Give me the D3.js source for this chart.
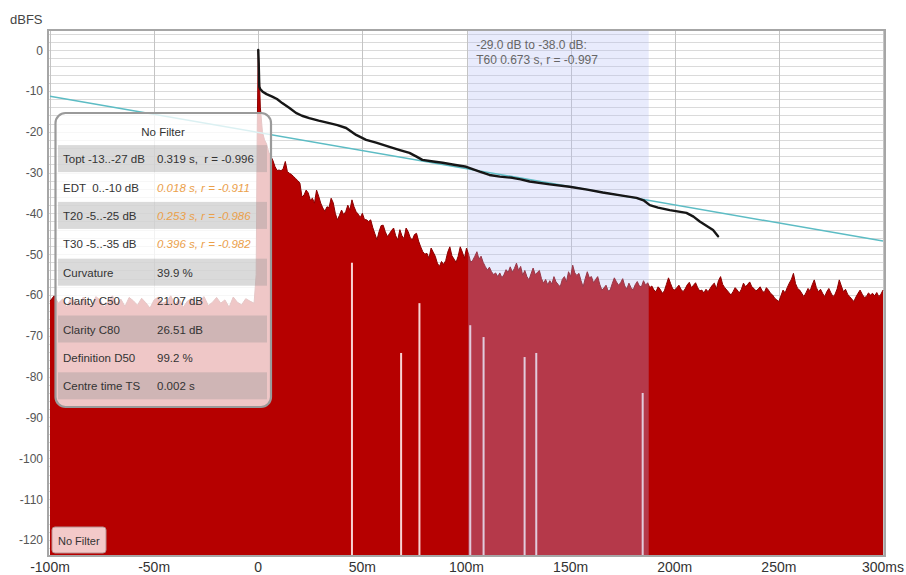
<!DOCTYPE html>
<html><head><meta charset="utf-8">
<script src="https://cdn.jsdelivr.net/npm/d3@7"></script>
<style>
body{margin:0;background:#fff;}
svg{display:block;font-family:"Liberation Sans",Arial,sans-serif;}
</style>
</head><body>
<svg id="c" width="906" height="575"></svg>
<script>
// ---------------- data ----------------
const xTicks = [-100, -50, 0, 50, 100, 150, 200, 250, 300];
const xTickLabels = ["-100m", "-50m", "0", "50m", "100m", "150m", "200m", "250m", "300ms"];
const yTicks = [0, -10, -20, -30, -40, -50, -60, -70, -80, -90, -100, -110, -120];
const yTickLabels = ["0", "-10", "-20", "-30", "-40", "-50", "-60", "-70", "-80", "-90", "-100", "-110", "-120"];

// impulse response level (dB), pre-impulse noise at t = -100, -98, ... -2 ms
const preNoise = [
  -61.5, -60.2, -62, -61, -63, -60.8, -61.6, -62.4, -60.5, -61.8,
  -62.6, -60.4, -61.2, -63, -61.5, -60.2, -62.2, -61, -62.8, -60.6,
  -61.4, -62.5, -60.8, -61.9, -63.2, -61.2, -60.5, -62, -61.6, -60.2,
  -62.4, -61, -63, -61.5, -60.8, -62.2, -61.3, -60.4, -62.6, -61.8,
  -60.6, -62, -61.2, -63, -60.5, -61.8, -62.4, -60.9, -61.5, -62
];
const onsetTimes = [-1, -0.5, 0, 0.5];
const onsetLevels = [-55, -20, 0, -6];
// decay, t = 1, 2, ... 300 ms
const decayLevels = [
  -14, -20, -22, -23, -25, -26, -27, -28.5, -29.5, -29.4,
  -29.6, -29, -27.3, -29.8, -30.2, -30.5, -31, -31.5, -32, -32.6,
  -36, -35.5, -34.3, -35, -36.8, -36.3, -37.5, -34.3, -35.8, -37.5,
  -38.7, -39.5, -38.4, -38.6, -36.3, -37.4, -40, -41.6, -40.5, -39.2,
  -40.3, -39.6, -38, -39.2, -36.7, -38.4, -39.6, -40.2, -41, -40,
  -41.5, -41.6, -42, -41.6, -43.5, -45, -46.5, -44.5, -43, -42.9,
  -44.5, -45.7, -45, -44.2, -43.6, -45.5, -46.5, -44, -45.5, -46.2,
  -43.6, -44.5, -46, -46.5, -45.2, -44.9, -46.8, -48.2, -49.4, -50,
  -49.8, -51, -48.5, -49.5, -50.5, -52.2, -53, -51.8, -52.5, -51.6,
  -49.5, -48.2, -50.4, -51.2, -52, -50.5, -48.2, -49.5, -51, -48.5,
  -50, -52, -51.5, -50.5, -49.4, -51.2, -50.5, -52, -53, -53.9,
  -53.2, -54.3, -55, -54.6, -55.5, -54.6, -55.8, -55, -53.8, -54.5,
  -53.1, -54.4, -53.5, -52.2, -54, -53, -55.2, -54, -55.5, -56.3,
  -54.8, -53.4, -55, -54.5, -54, -56, -57.1, -56.2, -57.5, -56.5,
  -57.3, -55.5, -56.8, -57.4, -58, -56.2, -55.5, -56.8, -54.3, -55.5,
  -52.7, -54.6, -55.2, -54.7, -56.5, -58, -56, -54.3, -55.8, -55.5,
  -57, -56.2, -55.5, -57.4, -58.8, -58.3, -57.6, -59, -58.8, -57.2,
  -55.8, -56.8, -57.6, -57, -56, -57.8, -58.5, -57.1, -58.2, -58.8,
  -57.5, -56.7, -57.8, -58, -56.5, -57.6, -57, -58.2, -57.8, -58.8,
  -59.2, -58, -58.6, -59.6, -59, -57.4, -55.8, -57.2, -58.5, -58.8,
  -58.2, -57.6, -58.6, -59.2, -58.5, -57.5, -56.9, -58.2, -57.6, -57,
  -58.2, -59, -58.8, -59.5, -58.6, -59.2, -58.4, -57.6, -57.1, -58.5,
  -56.5, -55.5, -57.4, -58.2, -58.8, -59.4, -60, -59.2, -58.2, -58.8,
  -59.5, -58.6, -57.1, -58, -57.4, -56.8, -58, -58.4, -59, -58.6,
  -58, -59, -59.4, -58.2, -58.8, -59.6, -60, -60.8, -61.2, -61.6,
  -60.2, -58.8, -59.5, -58.2, -57.1, -56.2, -54.7, -57.2, -58.4, -58.8,
  -59.6, -60.4, -59.5, -58.4, -59, -57.5, -56.3, -58.2, -59.2, -58.6,
  -59.6, -60.4, -59.2, -58.4, -59.5, -60.4, -59.8, -58.5, -56.3, -57.8,
  -59.2, -58.6, -59.8, -60.4, -61, -61.6, -60.5, -59.6, -58.8, -59.8,
  -60.6, -60.4, -59.5, -60, -59.6, -60.2, -59.4, -60.4, -59.8, -58.8
];
// deep notches (ms, level where the gap begins)
const notchTimes = [45, 68.6, 77.4, 101.8, 108.2, 127.9, 133.5, 184.6];
const notchTops = [-52.1, -74.2, -62, -67.4, -70.3, -75.2, -74.2, -84];

// Schroeder integral (black)
const schroederTimes = [0, 0.2, 0.5, 1, 2.1, 4, 6.7, 9, 11.5, 15, 18.1, 21, 24.5, 29, 34.1, 38, 42.2, 47, 51.8, 56.6, 63, 68, 72.6, 76, 78.8, 84, 88.5, 94, 99.9, 106.3, 111, 116, 122, 126, 130.3, 140, 149.5, 158, 165.4, 174, 181.6, 185, 188, 192, 197.6, 205.6, 209, 212, 215, 218.4, 220.8];
const schroederLevels = [0, -3, -9, -9.6, -10.2, -10.8, -11.4, -12, -13, -14.2, -15.4, -16.1, -16.7, -17.3, -17.9, -18.4, -19.1, -20.8, -22.0, -22.7, -23.7, -24.5, -25.2, -26.1, -26.9, -27.3, -27.6, -28.1, -28.6, -29.8, -30.6, -31.0, -31.3, -31.7, -32.2, -32.9, -33.5, -34.2, -34.9, -35.6, -36.2, -36.8, -38.0, -38.6, -39.2, -39.9, -40.8, -42.0, -43.0, -44.1, -45.6];

// T60 regression line (cyan)
const fitTimes = [-100, 300];
const fitLevels = [-11.3, -46.8];

// selected regression span (ms)
const regionRange = [100.8, 187.5];
const regionText = ["-29.0 dB to -38.0 dB:", "T60 0.673 s, r = -0.997"];

const legendTitle = "No Filter";
const legendLabels = ["Topt -13..-27 dB", "EDT  0..-10 dB", "T20 -5..-25 dB", "T30 -5..-35 dB", "Curvature", "Clarity C50", "Clarity C80", "Definition D50", "Centre time TS"];
const legendValues = ["0.319 s,  r = -0.996", "0.018 s, r = -0.911", "0.253 s, r = -0.986", "0.396 s, r = -0.982", "39.9 %", "21.07 dB", "26.51 dB", "99.2 %", "0.002 s"];
const legendWarn = [false, true, true, true, false, false, false, false, false];

// ---------------- chart ----------------
const svg = d3.select("#c");
const W = 906, H = 575;
const x = d3.scaleLinear().domain([-100, 300]).range([50, 883]);
const y = d3.scaleLinear().domain([-124, 5]).range([556.3, 29.6]);
const plot = {l: 48, t: 30, r: 885, b: 556};

svg.append("rect").attr("width", W).attr("height", H).attr("fill", "#fff");
svg.append("defs").append("clipPath").attr("id", "pc")
  .append("rect").attr("x", plot.l).attr("y", plot.t).attr("width", plot.r - plot.l).attr("height", plot.b - plot.t);

const g = svg.append("g").attr("clip-path", "url(#pc)");

// horizontal minor grid every 2 dB
const gridVals = d3.range(-124, 6, 2);
g.selectAll("line.hg").data(gridVals).join("line")
  .attr("x1", plot.l).attr("x2", plot.r)
  .attr("y1", d => Math.round(y(d)) + 0.5).attr("y2", d => Math.round(y(d)) + 0.5)
  .attr("stroke", "#dadada").attr("stroke-width", 1);
g.selectAll("line.vg").data(xTicks).join("line")
  .attr("x1", d => Math.round(x(d)) + 0.5).attr("x2", d => Math.round(x(d)) + 0.5)
  .attr("y1", plot.t).attr("y2", plot.b)
  .attr("stroke", "#c4c4c4").attr("stroke-width", 1);

// impulse data
const ir = [];
preNoise.forEach((v, i) => ir.push([-100 + 2 * i, v]));
onsetTimes.forEach((t, i) => ir.push([t, onsetLevels[i]]));
decayLevels.forEach((v, i) => ir.push([i + 1, v]));

const area = d3.area().x(d => x(d[0])).y0(y(-124) + 2).y1(d => y(d[1]));
g.append("path").datum(ir).attr("d", area).attr("fill", "#b60000");
g.append("path").datum(ir).attr("d", d3.line().x(d => x(d[0])).y(d => y(d[1])))
  .attr("fill", "none").attr("stroke", "#8a0000").attr("stroke-width", 1);

// notches
g.selectAll("rect.notch").data(notchTimes).join("rect")
  .attr("x", d => x(d) - 1).attr("width", 2)
  .attr("y", (d, i) => y(notchTops[i])).attr("height", (d, i) => y(-124) - y(notchTops[i]) + 2)
  .attr("fill", "#f7d2d2");

// region overlay
g.append("rect")
  .attr("x", x(regionRange[0])).attr("width", x(regionRange[1]) - x(regionRange[0]))
  .attr("y", plot.t).attr("height", plot.b - plot.t)
  .attr("fill", "rgb(180,190,245)").attr("fill-opacity", 0.3);

// fit line
g.append("path").datum(fitTimes.map((t, i) => [t, fitLevels[i]]))
  .attr("d", d3.line().x(d => x(d[0])).y(d => y(d[1])))
  .attr("fill", "none").attr("stroke", "#5cbcc4").attr("stroke-width", 1.5);

// schroeder
g.append("path").datum(schroederTimes.map((t, i) => [t, schroederLevels[i]]))
  .attr("d", d3.line().x(d => x(d[0])).y(d => y(d[1])))
  .attr("fill", "none").attr("stroke", "#161616").attr("stroke-width", 2.4)
  .attr("stroke-linejoin", "round").attr("stroke-linecap", "round");

// frame
svg.append("rect").attr("x", plot.l).attr("y", plot.t).attr("width", plot.r - plot.l).attr("height", plot.b - plot.t)
  .attr("fill", "none").attr("stroke", "#a6a6a6").attr("stroke-width", 2);

// region annotation
svg.selectAll("text.reg").data(regionText).join("text")
  .attr("x", x(regionRange[0]) + 8).attr("y", (d, i) => 49 + i * 15)
  .attr("font-size", 12).attr("fill", "#666").text(d => d);

// axes labels
svg.append("text").attr("x", 10).attr("y", 24).attr("font-size", 13).attr("fill", "#444").text("dBFS");
svg.selectAll("text.yt").data(yTicks).join("text")
  .attr("x", 43).attr("y", d => y(d) + 4.5).attr("text-anchor", "end")
  .attr("font-size", 12).attr("fill", "#555").text((d, i) => yTickLabels[i]);
svg.selectAll("text.xt").data(xTicks).join("text")
  .attr("x", d => x(d)).attr("y", 572).attr("text-anchor", "middle")
  .attr("font-size", 14).attr("fill", "#333").text((d, i) => xTickLabels[i]);

// legend
const lg = svg.append("g");
lg.append("rect").attr("x", 55.5).attr("y", 113).attr("width", 215.5).attr("height", 294).attr("rx", 10)
  .attr("fill", "#fff").attr("fill-opacity", 0.78).attr("stroke", "#9a9a9a").attr("stroke-width", 2.2);
lg.append("text").attr("x", 163).attr("y", 136).attr("text-anchor", "middle").attr("font-size", 11.5).attr("fill", "#333").text(legendTitle);
const rowY = i => 158.6 + i * 28.4;
lg.selectAll("rect.band").data(legendLabels).join("rect")
  .attr("x", 58).attr("width", 209).attr("y", (d, i) => rowY(i) - 13.5).attr("height", 27)
  .attr("fill", "rgb(150,150,150)").attr("fill-opacity", (d, i) => i % 2 === 0 ? 0.35 : 0);
lg.selectAll("text.lab").data(legendLabels).join("text")
  .attr("x", 63).attr("y", (d, i) => rowY(i) + 4.5).attr("font-size", 11.5).attr("fill", "#333")
  .style("white-space", "pre").text(d => d);
lg.selectAll("text.val").data(legendValues).join("text")
  .attr("x", 157).attr("y", (d, i) => rowY(i) + 4.5).attr("font-size", 11.5)
  .attr("fill", (d, i) => legendWarn[i] ? "#eba04a" : "#333")
  .attr("font-style", (d, i) => legendWarn[i] ? "italic" : "normal")
  .style("white-space", "pre").text(d => d);

// bottom-left tag
svg.append("rect").attr("x", 52).attr("y", 527).attr("width", 54).attr("height", 26).attr("rx", 3)
  .attr("fill", "#f3c9c9").attr("stroke", "#b89090").attr("stroke-width", 1);
svg.append("text").attr("x", 58).attr("y", 545).attr("font-size", 11).attr("fill", "#333").text(legendTitle);
</script>
</body></html>
